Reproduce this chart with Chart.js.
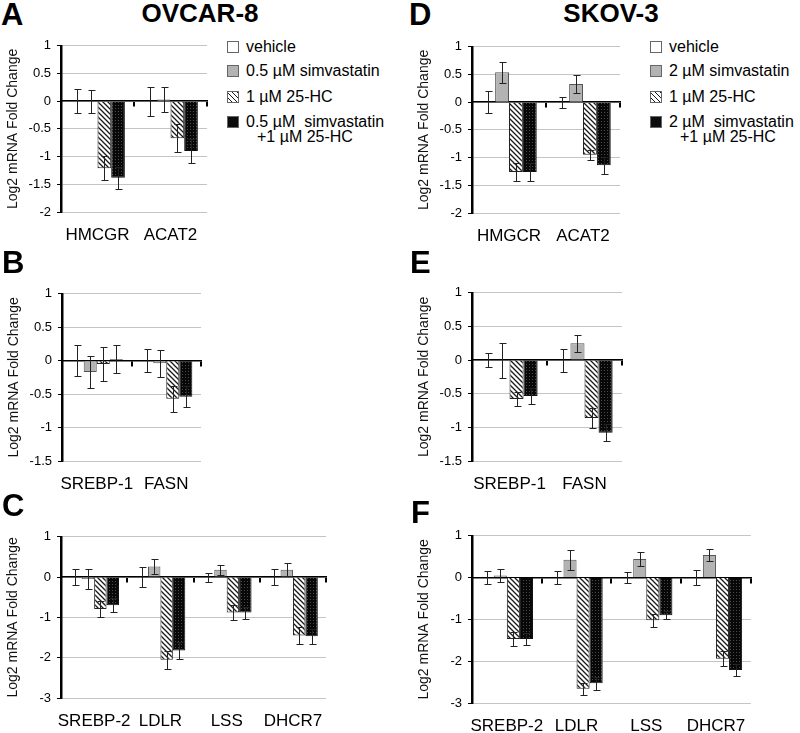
<!DOCTYPE html>
<html>
<head>
<meta charset="utf-8">
<script src="https://cdn.jsdelivr.net/npm/chart.js@4.4.1/dist/chart.umd.min.js"></script>
<style>
  body { margin: 0; background: #fff; }
  #fig { position: relative; width: 800px; height: 733px; overflow: hidden;
         font-family: 'Liberation Sans', Arial, sans-serif; color: #000; }
  #fig canvas { position: absolute; }
  .lab { position: absolute; font-weight: bold; font-size: 31px; line-height: 31px; }
  .ttl { position: absolute; width: 200px; text-align: center; font-weight: bold; font-size: 26px; line-height: 26px; }
  .row { position: absolute; font-size: 16px; line-height: 16px; white-space: pre; }
  .sw { position: absolute; width: 10px; height: 10px; border: 1px solid #666; box-sizing: content-box; }
</style>
</head>
<body>
<div id="fig"></div>
<script>
// ---- data ----
const ovcarLegend = ['vehicle', '0.5 µM simvastatin', '1 µM 25-HC', '0.5 µM  simvastatin', '+1 µM 25-HC'];
const skovLegend = ['vehicle', '2 µM simvastatin', '1 µM 25-HC', '2 µM  simvastatin', '+1 µM 25-HC'];

const genesAD = ['HMCGR', 'ACAT2'];
const genesD = ['HMGCR', 'ACAT2'];
const genesBE = ['SREBP-1', 'FASN'];
const genesCF = ['SREBP-2', 'LDLR', 'LSS', 'DHCR7'];

// panel A  (OVCAR-8)
const aVehicle = [0, 0],        aVehicleErr = [0.22, 0.26];
const aSimva = [0, 0.03],       aSimvaErr = [0.21, 0.23];
const aHC = [-1.21, -0.67],     aHCErr = [0.22, 0.25];
const aCombo = [-1.38, -0.90],  aComboErr = [0.20, 0.22];
// panel B
const bVehicle = [0, 0],        bVehicleErr = [0.235, 0.17];
const bSimva = [-0.17, -0.04],  bSimvaErr = [0.235, 0.20];
const bHC = [-0.05, -0.57],     bHCErr = [0.26, 0.19];
const bCombo = [0.02, -0.54],   bComboErr = [0.21, 0.16];
// panel C
const cVehicle = [0, 0, 0, 0],              cVehicleErr = [0.19, 0.24, 0.11, 0.20];
const cSimva = [-0.05, 0.26, 0.18, 0.18],   cSimvaErr = [0.25, 0.19, 0.12, 0.16];
const cHC = [-0.79, -2.05, -0.88, -1.45],   cHCErr = [0.20, 0.22, 0.18, 0.20];
const cCombo = [-0.70, -1.82, -0.88, -1.47], cComboErr = [0.17, 0.20, 0.15, 0.19];
// panel D  (SKOV-3)
const dVehicle = [0, 0],        dVehicleErr = [0.20, 0.10];
const dSimva = [0.54, 0.33],    dSimvaErr = [0.19, 0.16];
const dHC = [-1.26, -0.95],     dHCErr = [0.16, 0.09];
const dCombo = [-1.26, -1.14],  dComboErr = [0.16, 0.15];
// panel E
const eVehicle = [0, 0],        eVehicleErr = [0.10, 0.17];
const eSimva = [0, 0.25],       eSimvaErr = [0.26, 0.125];
const eHC = [-0.58, -0.86],     eHCErr = [0.10, 0.15];
const eCombo = [-0.535, -1.08], eComboErr = [0.12, 0.13];
// panel F
const fVehicle = [0, 0, 0, 0],               fVehicleErr = [0.15, 0.16, 0.13, 0.17];
const fSimva = [0.05, 0.43, 0.445, 0.54],    fSimvaErr = [0.15, 0.24, 0.17, 0.14];
const fHC = [-1.47, -2.66, -1.02, -1.94],    fHCErr = [0.17, 0.15, 0.16, 0.18];
const fCombo = [-1.47, -2.53, -0.90, -2.21], fComboErr = [0.15, 0.15, 0.09, 0.14];

Chart.defaults.font.family = "'Liberation Sans', Arial, sans-serif";
Chart.defaults.color = '#000';

const fig = document.getElementById('fig');

// fills
function makeHatch() {
  const c = document.createElement('canvas');
  c.width = 5; c.height = 5;
  const g = c.getContext('2d');
  g.fillStyle = '#fff'; g.fillRect(0, 0, 5, 5);
  g.strokeStyle = '#1a1a1a'; g.lineWidth = 1.3;
  g.beginPath();
  g.moveTo(-1, -1); g.lineTo(6, 6);
  g.moveTo(-1, 4); g.lineTo(1, 6);
  g.moveTo(4, -1); g.lineTo(6, 1);
  g.stroke();
  return g.createPattern(c, 'repeat');
}
function makeDots() {
  const c = document.createElement('canvas');
  c.width = 3; c.height = 3;
  const g = c.getContext('2d');
  g.fillStyle = '#080808'; g.fillRect(0, 0, 3, 3);
  g.fillStyle = '#4a4a4a'; g.fillRect(1, 1, 1, 1);
  return g.createPattern(c, 'repeat');
}
const hatch = makeHatch();
const dots = makeDots();

// error bars drawn over the bars
const errorBars = {
  id: 'errorBars',
  afterDatasetsDraw(chart) {
    const ctx = chart.ctx, y = chart.scales.y;
    ctx.save();
    ctx.strokeStyle = '#222';
    ctx.lineWidth = 1;
    chart.data.datasets.forEach((ds, i) => {
      chart.getDatasetMeta(i).data.forEach((bar, j) => {
        const v = ds.data[j], e = ds.errors[j];
        const x = Math.round(bar.x) + 0.5;
        const t = Math.round(y.getPixelForValue(v + e)) + 0.5;
        const b = Math.round(y.getPixelForValue(v - e)) + 0.5;
        ctx.beginPath();
        ctx.moveTo(x, t); ctx.lineTo(x, b);
        ctx.moveTo(x - 3, t); ctx.lineTo(x + 4, t);
        ctx.moveTo(x - 3, b); ctx.lineTo(x + 4, b);
        ctx.stroke();
      });
    });
    ctx.restore();
  }
};

const YW = 58, PT = 8, PR = 6, XH = 34;

function panel(box, labels, names, vals, errs, min, max, step) {
  const cv = document.createElement('canvas');
  const w = box.right - box.left + YW + PR;
  const h = box.bottom - box.top + PT + XH;
  cv.width = w; cv.height = h;
  cv.style.left = (box.left - YW) + 'px';
  cv.style.top = (box.top - PT) + 'px';
  fig.appendChild(cv);

  const fills = ['#fff', '#b3b3b3', hatch, dots];
  const borders = ['#444', '#555', '#222', '#111'];

  new Chart(cv, {
    type: 'bar',
    data: {
      labels: labels,
      datasets: vals.map((v, i) => ({
        label: names[i],
        data: v,
        errors: errs[i],
        backgroundColor: fills[i],
        borderColor: borders[i],
        borderWidth: 1,
        categoryPercentage: 0.75,
        barPercentage: 1.0
      }))
    },
    options: {
      responsive: false,
      animation: false,
      layout: { padding: { top: PT, right: PR, left: 0, bottom: 0 } },
      plugins: { legend: { display: false }, tooltip: { enabled: false } },
      scales: {
        x: {
          offset: true,
          grid: { display: false, drawTicks: false },
          border: { display: false },
          ticks: { font: { size: 17 }, padding: 13, autoSkip: false, maxRotation: 0, minRotation: 0, color: '#000' },
          afterFit: s => { s.height = XH; }
        },
        x0: {
          type: 'category',
          labels: labels,
          position: { y: 0 },
          offset: true,
          z: 1,
          ticks: { display: false },
          grid: { offset: true, drawOnChartArea: false, drawTicks: true, tickLength: 5, lineWidth: 2, color: '#000' },
          border: { display: true, color: '#000', width: 1.5 }
        },
        y: {
          min: min, max: max,
          ticks: { stepSize: step, font: { size: 13 }, padding: 6, color: '#000', callback: v => String(v) },
          grid: { color: '#c4c4c4', lineWidth: 1, tickColor: '#000', tickLength: 4 },
          border: { display: true, color: '#000', width: 2.5 },
          title: { display: true, text: 'Log2 mRNA Fold Change', font: { size: 14 }, padding: { top: 2, bottom: 0 }, color: '#111' },
          afterFit: s => { s.width = YW; }
        }
      }
    },
    plugins: [errorBars]
  });
}

panel({ left: 61, top: 40, right: 207, bottom: 212 }, genesAD, ovcarLegend,
  [aVehicle, aSimva, aHC, aCombo], [aVehicleErr, aSimvaErr, aHCErr, aComboErr], -2, 1, 0.5);
panel({ left: 62, top: 288, right: 201, bottom: 461 }, genesBE, ovcarLegend,
  [bVehicle, bSimva, bHC, bCombo], [bVehicleErr, bSimvaErr, bHCErr, bComboErr], -1.5, 1, 0.5);
panel({ left: 61, top: 531, right: 330, bottom: 698 }, genesCF, ovcarLegend,
  [cVehicle, cSimva, cHC, cCombo], [cVehicleErr, cSimvaErr, cHCErr, cComboErr], -3, 1, 1);
panel({ left: 472, top: 41, right: 620, bottom: 213 }, genesD, skovLegend,
  [dVehicle, dSimva, dHC, dCombo], [dVehicleErr, dSimvaErr, dHCErr, dComboErr], -2, 1, 0.5);
panel({ left: 472, top: 287, right: 622, bottom: 461 }, genesBE, skovLegend,
  [eVehicle, eSimva, eHC, eCombo], [eVehicleErr, eSimvaErr, eHCErr, eComboErr], -1.5, 1, 0.5);
panel({ left: 472, top: 530, right: 753, bottom: 703 }, genesCF, skovLegend,
  [fVehicle, fSimva, fHC, fCombo], [fVehicleErr, fSimvaErr, fHCErr, fComboErr], -3, 1, 1);

// panel letters and titles
function addText(cls, txt, x, y) {
  const d = document.createElement('div');
  d.className = cls; d.textContent = txt;
  d.style.left = x + 'px'; d.style.top = y + 'px';
  fig.appendChild(d);
}
addText('lab', 'A', 1, -1);
addText('lab', 'B', 2, 247);
addText('lab', 'C', 2, 490);
addText('lab', 'D', 409, -1);
addText('lab', 'E', 410, 247);
addText('lab', 'F', 411, 497);
addText('ttl', 'OVCAR-8', 100, 0);
addText('ttl', 'SKOV-3', 511, 0);

// legends
const swatchBg = ['#fff', '#b3b3b3',
  'repeating-linear-gradient(45deg, #fff 0 2.4px, #1a1a1a 2.4px 3.5px)', '#0c0c0c'];
function legend(names, x) {
  const rows = [47, 71, 97, 122];
  rows.forEach((cy, i) => {
    const s = document.createElement('div');
    s.className = 'sw';
    s.style.left = x + 'px'; s.style.top = (cy - 6) + 'px';
    s.style.background = swatchBg[i];
    fig.appendChild(s);
    addText('row', names[i], x + 19, cy - 8);
  });
  addText('row', names[4], x + 30, 137 - 8);
}
legend(ovcarLegend, 227);
legend(skovLegend, 650);
</script>
</body>
</html>
